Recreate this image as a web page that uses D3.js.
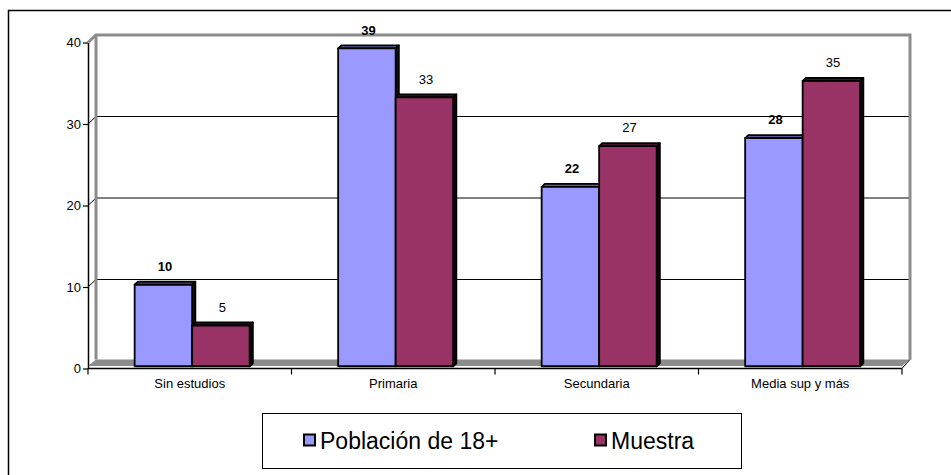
<!DOCTYPE html>
<html>
<head>
<meta charset="utf-8">
<script src="https://cdn.jsdelivr.net/npm/d3@7"></script>
<style>
  html, body { margin: 0; padding: 0; background: #fff; }
  svg { display: block; font-family: "Liberation Sans", Arial, sans-serif; }
</style>
</head>
<body>
<svg id="chart" width="951" height="475"></svg>
<script>
// Education level: general population (18+) vs survey sample, in %
const categories = ["Sin estudios", "Primaria", "Secundaria", "Media sup y más"];
const seriesNames = ["Población de 18+", "Muestra"];
const poblacion = [10, 39, 22, 28];
const muestra = [5, 33, 27, 35];
const yTicks = [0, 10, 20, 30, 40];
const gridValues = [10, 20, 30];

const seriesData = [poblacion, muestra];
const fronts = ["#9999FF", "#993366"];
const tops = ["#5c5c9e", "#4a1030"];
const sides = ["#111122", "#1a0510"];

const svg = d3.select("#chart");

// Outer chart-area frame (continues past the right and bottom edges)
svg.append("rect")
  .attr("x", 8.5).attr("y", 10.5)
  .attr("width", 1000).attr("height", 1000)
  .attr("fill", "none").attr("stroke", "#000").attr("stroke-width", 1.5);

// Front-plane scales
const x0 = d3.scaleBand().domain(categories).range([88, 902]);
const y = d3.scaleLinear().domain([0, 40]).range([368.5, 42.5]);

// Depth offsets for the pseudo-3D wall and bars
const back = { dx: 8, dy: -7.5 };
const barFront = { dx: 2.4, dy: -2.25 };
const barDepth = { dx: 3.2, dy: -3 };

const groupWidth = 115;
const x1 = d3.scaleBand().domain(seriesNames).range([-groupWidth / 2, groupWidth / 2]);

const xLeft = x0.range()[0], xRight = x0.range()[1];

// Floor
const floorTop = y(0) - 9;
const floorFront = y(0) - 2.5;
svg.append("path")
  .attr("d", `M${xLeft + back.dx},${floorTop} L${xRight + back.dx},${floorTop} L${xRight},${floorFront} L${xLeft},${floorFront} Z`)
  .attr("fill", "#8c8c8c");

// Gridlines on the back wall, with their slanted lead-in from the axis
const grid = svg.append("g");
gridValues.forEach(v => {
  const yb = y(v) + back.dy;
  grid.append("line")
    .attr("x1", xLeft + back.dx).attr("x2", xRight + back.dx)
    .attr("y1", yb).attr("y2", yb)
    .attr("stroke", "#000").attr("stroke-width", 1);
  grid.append("line")
    .attr("x1", xLeft).attr("y1", y(v))
    .attr("x2", xLeft + back.dx).attr("y2", yb)
    .attr("stroke", "#000").attr("stroke-width", 1);
});

// Wall edges (grey)
const wallTop = y(40) + back.dy;
svg.append("path")
  .attr("d", `M${xLeft},${y(40)} L${xLeft + back.dx},${wallTop} L${xRight + back.dx},${wallTop} L${xRight + back.dx},${floorTop}`)
  .attr("fill", "none").attr("stroke", "#8c8c8c").attr("stroke-width", 3);
svg.append("line")
  .attr("x1", xLeft + back.dx).attr("x2", xLeft + back.dx)
  .attr("y1", wallTop).attr("y2", floorTop)
  .attr("stroke", "#8c8c8c").attr("stroke-width", 3);

// Bars
const bars = svg.append("g");
categories.forEach((c, i) => {
  seriesNames.forEach((s, j) => {
    const v = seriesData[j][i];
    const xl = x0(c) + x0.bandwidth() / 2 + x1(s) + barFront.dx;
    const xr = xl + x1.bandwidth();
    const yt = y(v) + barFront.dy;
    const yb = y(0) + barFront.dy;
    const g = bars.append("g")
      .attr("stroke", "#000").attr("stroke-width", 1.8).attr("stroke-linejoin", "round");
    // right side face
    g.append("path")
      .attr("d", `M${xr},${yt} L${xr + barDepth.dx},${yt + barDepth.dy} L${xr + barDepth.dx},${yb + barDepth.dy} L${xr},${yb} Z`)
      .attr("fill", sides[j]);
    // top face
    g.append("path")
      .attr("d", `M${xl},${yt} L${xl + barDepth.dx},${yt + barDepth.dy} L${xr + barDepth.dx},${yt + barDepth.dy} L${xr},${yt} Z`)
      .attr("fill", tops[j]);
    // front face
    g.append("rect")
      .attr("x", xl).attr("y", yt)
      .attr("width", xr - xl).attr("height", yb - yt)
      .attr("fill", fronts[j]);
  });
});

// Value labels
const labels = svg.append("g").attr("font-size", "13px").attr("text-anchor", "middle").attr("fill", "#000");
categories.forEach((c, i) => {
  seriesNames.forEach((s, j) => {
    const v = seriesData[j][i];
    const cx = x0(c) + x0.bandwidth() / 2 + x1(s) + x1.bandwidth() / 2 + barFront.dx + 1.5;
    labels.append("text")
      .attr("x", cx).attr("y", y(v) - 16)
      .attr("font-weight", j === 0 ? "bold" : "normal")
      .text(v);
  });
});

// Y axis
const yAxis = svg.append("g")
  .attr("transform", `translate(${xLeft},0)`)
  .call(d3.axisLeft(y).tickValues(yTicks).tickSize(5).tickSizeOuter(0).tickPadding(2));
yAxis.select(".domain").attr("stroke-width", 1.5);
yAxis.selectAll(".tick line").attr("stroke-width", 1.2);
yAxis.selectAll("text").attr("font-size", "13px").attr("font-family", "Liberation Sans, Arial, sans-serif").attr("fill", "#000");

// X axis line and category separators
svg.append("line")
  .attr("x1", xLeft).attr("x2", xRight)
  .attr("y1", y(0)).attr("y2", y(0))
  .attr("stroke", "#000").attr("stroke-width", 1.5);
svg.append("line")
  .attr("x1", xRight).attr("y1", y(0))
  .attr("x2", xRight + back.dx).attr("y2", floorTop)
  .attr("stroke", "#000").attr("stroke-width", 1);
const bounds = categories.map(c => x0(c)).concat([xRight]);
svg.append("g").selectAll("line").data(bounds).join("line")
  .attr("x1", d => d).attr("x2", d => d)
  .attr("y1", y(0)).attr("y2", y(0) + 6)
  .attr("stroke", "#000").attr("stroke-width", 1.2);

// Category labels
svg.append("g").selectAll("text").data(categories).join("text")
  .attr("x", c => x0(c) + x0.bandwidth() / 2)
  .attr("y", y(0) + 19)
  .attr("text-anchor", "middle")
  .attr("font-size", "13px")
  .text(c => c);

// Legend
const legend = svg.append("g");
legend.append("rect")
  .attr("x", 262.5).attr("y", 413.5).attr("width", 479).attr("height", 55)
  .attr("fill", "#fff").attr("stroke", "#000").attr("stroke-width", 1);
const legendX = [304, 595];
seriesNames.forEach((s, j) => {
  legend.append("rect")
    .attr("x", legendX[j]).attr("y", 434.5).attr("width", 11).attr("height", 11)
    .attr("fill", fronts[j]).attr("stroke", "#000").attr("stroke-width", 2);
  legend.append("text")
    .attr("x", legendX[j] + 16).attr("y", 449)
    .attr("font-size", "23px")
    .text(s);
});
</script>
</body>
</html>
